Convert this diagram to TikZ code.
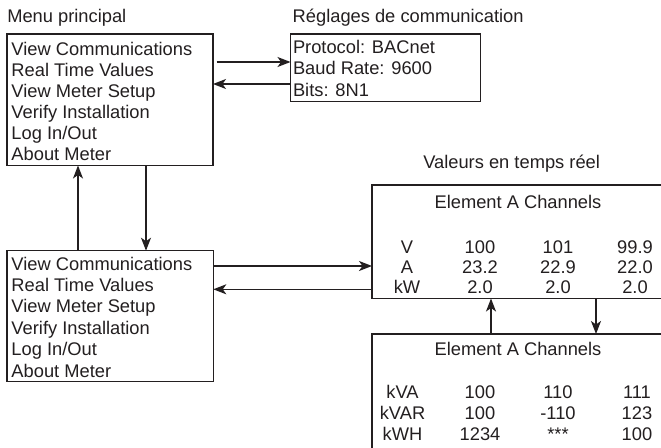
\documentclass[tikz,border=0pt]{standalone}
\usepackage{fontspec}
\setmainfont{Liberation Sans}
\usetikzlibrary{arrows.meta}
\definecolor{ink}{RGB}{35,31,32}
\begin{document}
\begin{tikzpicture}[x=1pt,y=-1pt,
  every node/.style={inner sep=0pt,outer sep=0pt,text=ink,font=\fontsize{18.3}{21}\selectfont},
  boxframe/.style={draw=ink,line width=1.3pt,rectangle},
  txt/.style={anchor=base west},
  ctr/.style={anchor=base},
  arr/.style={draw=ink,line width=1.3pt,-{Stealth[length=13pt,width=10pt,inset=3.5pt]}}]
\clip (0,0) rectangle (661,447);
\fill[white] (0,0) rectangle (661,447);
% headers
\node[txt] (h1) at (7.3,22.7) {Menu principal};
\node[txt] (h2) at (292.7,22.7) {Réglages de communication};
\node[txt] (h3) at (423.3,168.3) {Valeurs en temps réel};
% boxes
\node[boxframe,anchor=north west,minimum width=206pt,minimum height=131.5pt] (m1) at (7,34) {};
\node[boxframe,anchor=north west,minimum width=190pt,minimum height=67.5pt] (comm) at (290.5,34) {};
\node[boxframe,anchor=north west,minimum width=206.3pt,minimum height=131pt] (m3) at (7,250.7) {};
\node[boxframe,anchor=north west,minimum width=330pt,minimum height=113.5pt] (rt) at (372,185) {};
\node[boxframe,anchor=north west,minimum width=330pt,minimum height=140pt] (rt2) at (372,334) {};
% box 1 text
\node[txt] (a1) at (11.5,55) {View Communications};
\node[txt] (a2) at (11.5,76) {Real Time Values};
\node[txt] (a3) at (11.5,97) {View Meter Setup};
\node[txt] (a4) at (11.5,118) {Verify Installation};
\node[txt] (a5) at (11.5,139) {Log In/Out};
\node[txt] (a6) at (11.5,160) {About Meter};
% comm text
\node[txt] (c1) at (293,53.5) {Protocol: BACnet};
\node[txt] (c2) at (293,74.8) {Baud Rate: 9600};
\node[txt] (c3) at (293,96) {Bits: 8N1};
% box 3 text
\node[txt] (b1) at (11.5,270) {View Communications};
\node[txt] (b2) at (11.5,291.5) {Real Time Values};
\node[txt] (b3) at (11.5,312.9) {View Meter Setup};
\node[txt] (b4) at (11.5,334.4) {Verify Installation};
\node[txt] (b5) at (11.5,355.8) {Log In/Out};
\node[txt] (b6) at (11.5,377.3) {About Meter};
% real time box 1
\node[ctr] (t1) at (518,208.3) {Element A Channels};
\node[ctr] (v0) at (407,253.3) {V};
\node[ctr] (v1) at (480,253.3) {100};
\node[ctr] (v2) at (558,253.3) {101};
\node[ctr] (v3) at (635,253.3) {99.9};
\node[ctr] (i0) at (407,273.3) {A};
\node[ctr] (i1) at (480,273.3) {23.2};
\node[ctr] (i2) at (558,273.3) {22.9};
\node[ctr] (i3) at (635,273.3) {22.0};
\node[ctr] (w0) at (407,293.3) {kW};
\node[ctr] (w1) at (480,293.3) {2.0};
\node[ctr] (w2) at (558,293.3) {2.0};
\node[ctr] (w3) at (635,293.3) {2.0};
% real time box 2
\node[ctr] (t2) at (518,355) {Element A Channels};
\node[ctr] (p0) at (402.5,398.3) {kVA};
\node[ctr] (p1) at (480,398.3) {100};
\node[ctr] (p2) at (558,398.3) {110};
\node[ctr] (p3) at (637,398.3) {111};
\node[ctr] (q0) at (402.5,419.3) {kVAR};
\node[ctr] (q1) at (480,419.3) {100};
\node[ctr] (q2) at (558,419.3) {-110};
\node[ctr] (q3) at (637,419.3) {123};
\node[ctr] (e0) at (402.5,440) {kWH};
\node[ctr] (e1) at (480,440) {1234};
\node[ctr] (e2) at (558,440) {***};
\node[ctr] (e3) at (637,440) {100};
% connector guide coordinates
\coordinate (y1) at (0,62);
\coordinate (y2) at (0,84);
\coordinate (y3) at (0,266);
\coordinate (y4) at (0,289.3);
\coordinate (x1) at (78,0);
\coordinate (x2) at (146,0);
\coordinate (x3) at (491,0);
\coordinate (x4) at (596,0);
% connectors
\draw[arr,shorten <=3.5pt] (m1.east |- y1) -- (comm.west |- y1);
\draw[arr] (comm.west |- y2) -- (m1.east |- y2);
\draw[arr] (x2 |- m1.south) -- (x2 |- m3.north);
\draw[arr] (x1 |- m3.north) -- (x1 |- m1.south);
\draw[arr] (m3.east |- y3) -- (rt.west |- y3);
\draw[arr] (rt.west |- y4) -- (m3.east |- y4);
\draw[arr] (x4 |- rt.south) -- (x4 |- rt2.north);
\draw[arr] (x3 |- rt2.north) -- (x3 |- rt.south);
\end{tikzpicture}
\end{document}
